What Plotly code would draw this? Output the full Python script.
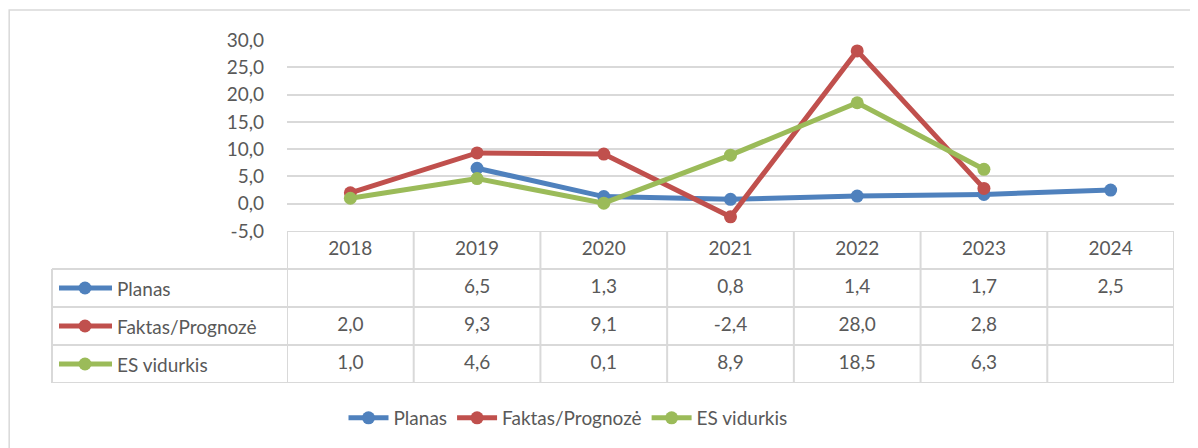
import plotly.graph_objects as go

years = ["2018", "2019", "2020", "2021", "2022", "2023", "2024"]
series_names = ["Planas", "Faktas/Prognozė", "ES vidurkis"]
planas = [None, 6.5, 1.3, 0.8, 1.4, 1.7, 2.5]
faktas = [2.0, 9.3, 9.1, -2.4, 28.0, 2.8, None]
es_vidurkis = [1.0, 4.6, 0.1, 8.9, 18.5, 6.3, None]
y_ticks = [-5, 0, 5, 10, 15, 20, 25, 30]

colors = ["#4F81BD", "#C0504D", "#9BBB59"]
values = [planas, faktas, es_vidurkis]

# page body has an 8px margin; figure is sized to fill the rest of the window
OFF = 8
W, H = 1198 - OFF, 448 - OFF
FONT = "Lato"
TXT = "#595959"
GRID = "#D9D9D9"


def px(x):
    return (x - OFF) / W


def py(y):
    return (H - (y - OFF)) / H


x_dom = [px(287), px(1174)]
y_dom = [py(231), py(40)]
t_dom = [py(383), py(231)]


def fmt(v):
    return "" if v is None else f"{v:.1f}".replace(".", ",")


fig = go.Figure()

for name, vals, c in zip(series_names, values, colors):
    fig.add_trace(go.Scatter(
        x=years, y=vals, name=name, mode="lines+markers",
        line=dict(color=c, width=5), marker=dict(color=c, size=13),
        connectgaps=False, xaxis="x", yaxis="y", cliponaxis=False,
    ))

# table header (years)
fig.add_trace(go.Scatter(
    x=years, y=[0.5] * len(years), mode="text", text=years,
    textfont=dict(family=FONT, size=19, color=TXT),
    xaxis="x", yaxis="y2", showlegend=False, hoverinfo="skip",
))
# table values
for r, vals in enumerate(values):
    fig.add_trace(go.Scatter(
        x=years, y=[r + 1.5] * len(years), mode="text",
        text=[fmt(v) for v in vals],
        textfont=dict(family=FONT, size=19, color=TXT),
        xaxis="x", yaxis="y2", showlegend=False, hoverinfo="skip",
    ))

shapes = []
# outer border
shapes.append(dict(type="rect", xref="paper", yref="paper",
                   x0=0.001, x1=1.05, y0=-0.1, y1=py(10),
                   line=dict(color=GRID, width=1.5), layer="below"))
# table vertical lines (columns)
for i in range(len(years) + 1):
    shapes.append(dict(type="line", xref="x", yref="y2",
                       x0=i - 0.5, x1=i - 0.5, y0=0, y1=4,
                       line=dict(color=GRID, width=2)))
# left column vertical line
shapes.append(dict(type="line", xref="paper", yref="y2",
                   x0=px(52), x1=px(52), y0=1, y1=4,
                   line=dict(color=GRID, width=2)))
# header top line
shapes.append(dict(type="line", xref="x", yref="y2",
                   x0=-0.5, x1=len(years) - 0.5, y0=0, y1=0,
                   line=dict(color=GRID, width=2)))
for r in range(1, 5):
    shapes.append(dict(type="line", xref="paper", yref="y2",
                       x0=px(52), x1=x_dom[1], y0=r, y1=r,
                       line=dict(color=GRID, width=2)))

annotations = []
row_px = (383 - 231) / 4
for r, (name, c) in enumerate(zip(series_names, colors)):
    yc = r + 1.5
    shapes.append(dict(type="line", xref="paper", yref="y2",
                       x0=px(59), x1=px(112), y0=yc, y1=yc,
                       line=dict(color=c, width=5)))
    rad_y = 6.5 / row_px
    shapes.append(dict(type="circle", xref="paper", yref="y2",
                       x0=px(85 - 6.5), x1=px(85 + 6.5), y0=yc - rad_y, y1=yc + rad_y,
                       fillcolor=c, line=dict(color=c, width=0)))
    annotations.append(dict(xref="paper", yref="y2", x=px(115), y=yc,
                            text=name, showarrow=False, xanchor="left",
                            yanchor="middle",
                            font=dict(family=FONT, size=19, color=TXT)))

fig.update_layout(
    width=W, height=H,
    margin=dict(l=0, r=0, t=0, b=0, autoexpand=False),
    paper_bgcolor="white", plot_bgcolor="white",
    font=dict(family=FONT, size=19, color=TXT),
    xaxis=dict(domain=x_dom, type="category", range=[-0.5, 6.5],
               showticklabels=False, showgrid=False, zeroline=False,
               showline=False, ticks="", anchor="y", fixedrange=True,
               automargin=False),
    yaxis=dict(domain=y_dom, range=[-5, 30], tickmode="array",
               tickvals=y_ticks, ticktext=[fmt(v) for v in y_ticks],
               showgrid=True, gridcolor=GRID, gridwidth=1.5,
               zeroline=False, showline=False, ticks="",
               ticklabelstandoff=22, anchor="x", automargin=False,
               tickfont=dict(family=FONT, size=19, color=TXT)),
    yaxis2=dict(domain=t_dom, range=[4, 0], visible=False, anchor="x",
                automargin=False),
    shapes=shapes,
    annotations=annotations,
    showlegend=True,
    legend=dict(orientation="h", x=px(568), y=py(418), xanchor="center",
                yanchor="middle", font=dict(family=FONT, size=19, color=TXT),
                itemwidth=40, traceorder="normal"),
)

fig.write_html("out.html")
